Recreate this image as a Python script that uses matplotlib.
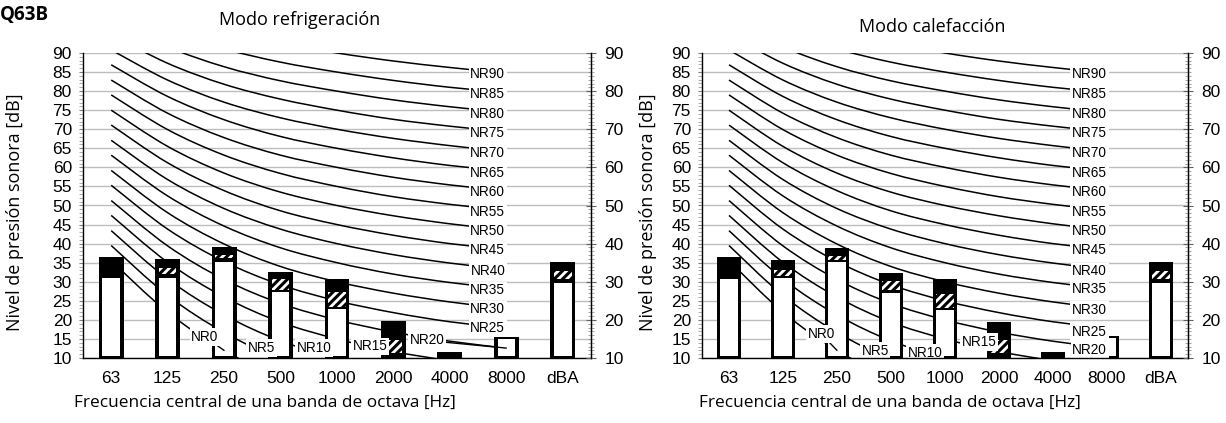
import matplotlib
matplotlib.use("Agg")
import matplotlib.pyplot as plt
from matplotlib.path import Path
from matplotlib.patches import PathPatch
from matplotlib.ticker import MultipleLocator

# ---------------- data ----------------
bands = ["63", "125", "250", "500", "1000", "2000", "4000", "8000", "dBA"]
curve_bands = ["63", "125", "250", "500", "1000", "2000", "4000", "8000"]

nr_levels = [0, 5, 10, 15, 20, 25, 30, 35, 40, 45, 50, 55, 60, 65, 70, 75, 80, 85, 90]
# NR curve levels [dB] per octave band (63 ... 8000 Hz)
nr_curves = [
    [35.5, 22.0, 12.0, 4.8, 0.0, -3.5, -6.1, -8.0],
    [39.5, 26.4, 16.7, 9.7, 5.0, 1.6, -1.0, -2.9],
    [43.4, 30.7, 21.3, 14.5, 10.0, 6.7, 4.2, 2.3],
    [47.4, 35.1, 26.0, 19.4, 15.0, 11.7, 9.3, 7.5],
    [51.3, 39.4, 30.6, 24.3, 20.0, 16.8, 14.4, 12.6],
    [55.3, 43.8, 35.3, 29.2, 25.0, 21.9, 19.5, 17.8],
    [59.2, 48.1, 39.9, 34.0, 30.0, 27.0, 24.7, 22.9],
    [63.2, 52.5, 44.6, 38.9, 35.0, 32.0, 29.8, 28.1],
    [67.1, 56.8, 49.2, 43.8, 40.0, 37.1, 34.9, 33.2],
    [71.1, 61.2, 53.9, 48.6, 45.0, 42.2, 40.0, 38.4],
    [75.0, 65.5, 58.5, 53.5, 50.0, 47.3, 45.2, 43.5],
    [79.0, 69.9, 63.2, 58.4, 55.0, 52.3, 50.3, 48.7],
    [82.9, 74.2, 67.8, 63.2, 60.0, 57.4, 55.4, 53.8],
    [86.9, 78.6, 72.5, 68.1, 65.0, 62.5, 60.5, 59.0],
    [90.8, 82.9, 77.1, 73.0, 70.0, 67.6, 65.7, 64.1],
    [94.8, 87.3, 81.8, 77.9, 75.0, 72.6, 70.8, 69.3],
    [98.7, 91.6, 86.4, 82.7, 80.0, 77.7, 75.9, 74.4],
    [102.7, 96.0, 91.1, 87.6, 85.0, 82.8, 81.0, 79.6],
    [106.6, 100.3, 95.7, 92.5, 90.0, 87.9, 86.2, 84.7],
]

# Cooling mode (Modo refrigeración)
cool_total = [36.6, 36.0, 39.2, 32.5, 30.8, 19.8, 11.6, 15.5, 35.2]
cool_white = [30.9, 31.1, 35.3, 27.2, 22.8, 10.0, 10.0, 15.0, 29.8]
cool_hatch_lo = [None, 32.0, 36.1, 27.9, 23.3, 11.3, None, None, 30.6]
cool_hatch_hi = [None, 33.6, 37.1, 30.6, 27.2, 14.7, None, None, 32.8]

# Heating mode (Modo calefacción)
heat_total = [36.5, 35.7, 38.9, 32.4, 30.6, 19.5, 11.5, 15.7, 35.2]
heat_white = [30.6, 31.0, 35.1, 27.0, 22.5, 10.0, 10.0, 15.2, 29.8]
heat_hatch_lo = [None, 31.6, 35.7, 27.9, 23.2, 11.3, None, None, 30.6]
heat_hatch_hi = [None, 33.0, 36.7, 30.2, 26.7, 14.7, None, None, 32.8]

# NR label anchor (band index of labelled point) and label height
cool_label_idx = [2, 3, 4, 5, 6] + [7] * 14
cool_label_y = [15.5, 12.6, 12.6, 13.1, 14.6] + [17.9, 22.8, 27.8, 32.9, 38.2, 43.3,
                                                48.4, 53.5, 58.6, 63.8, 68.9, 74.0, 79.3, 84.4]
heat_label_idx = [2, 3, 4, 5, 7] + [7] * 14
heat_label_y = [16.3, 11.9, 11.4, 14.2, 12.2] + [16.8, 22.6, 28.0, 32.7, 38.2, 43.3,
                                                48.4, 53.5, 58.6, 63.8, 68.9, 74.0, 79.3, 84.4]
# labels whose leader line runs back to a curve point: nr level -> band index
cool_leaders = {0: 2, 20: 7}
heat_leaders = {0: 2}

# ---------------- style ----------------
W, H = 1226, 423
fig = plt.figure(figsize=(W / 100, H / 100), dpi=100)
TICKFONT = "Liberation Sans"
TEXTFONT = "Open Sans"
plt.rcParams["hatch.linewidth"] = 2.2


def fx(px):
    return px / W


def fy(py):
    return 1 - py / H


def smooth_path(xs, ys):
    n = len(xs)
    verts = [(xs[0], ys[0])]
    codes = [Path.MOVETO]
    for i in range(n - 1):
        i0, i3 = max(i - 1, 0), min(i + 2, n - 1)
        c1 = (xs[i] + (xs[i + 1] - xs[i0]) / 6, ys[i] + (ys[i + 1] - ys[i0]) / 6)
        c2 = (xs[i + 1] - (xs[i3] - xs[i]) / 6, ys[i + 1] - (ys[i3] - ys[i]) / 6)
        verts += [c1, c2, (xs[i + 1], ys[i + 1])]
        codes += [Path.CURVE4] * 3
    return Path(verts, codes)


def draw_panel(rect, total, white, hlo, hhi, lab_idx, lab_y, leaders,
               w_out, w_in, dx_low, dx_end):
    ax = fig.add_axes(rect)
    ax.set_xlim(-0.5, len(bands) - 0.5)
    ax.set_ylim(10, 90)
    ax.set_axisbelow(True)
    ax.yaxis.set_major_locator(MultipleLocator(5))
    ax.yaxis.set_minor_locator(MultipleLocator(1))
    ax.grid(axis="y", which="major", color="#bdbdbd", lw=1.0)
    ax.set_xticks(range(len(bands)))
    ax.set_xticklabels(bands, fontfamily=TICKFONT, fontsize=12.5)
    ax.tick_params(axis="x", length=0, pad=9)
    ax.tick_params(axis="y", which="major", length=3, color="#808080",
                   labelsize=12.5, pad=5)
    ax.tick_params(axis="y", which="minor", length=3, color="#a0a0a0")
    for lab in ax.get_yticklabels():
        lab.set_fontfamily(TICKFONT)
    ax.spines["top"].set_visible(False)
    for s in ("left", "bottom", "right"):
        ax.spines[s].set_color("black")
        ax.spines[s].set_linewidth(1.0)
        ax.spines[s].set_zorder(6)

    # NR curves
    cx = list(range(len(curve_bands)))
    for vals in nr_curves:
        ax.add_patch(PathPatch(smooth_path(cx, vals), fill=False,
                               edgecolor="black", lw=1.1, zorder=1))

    # bars
    x = list(range(len(bands)))
    ax.bar(x, [t - 10 for t in total], bottom=10, width=w_out,
           color="black", zorder=2)
    ax.bar(x, [max(wv - 10.6, 0) for wv in white], bottom=10.6, width=w_in,
           color="white", zorder=2.1)
    for i in x:
        if hlo[i] is not None:
            ax.bar(i, hhi[i] - hlo[i], bottom=hlo[i], width=w_in,
                   color="white", edgecolor="black", hatch="////", lw=0,
                   zorder=2.2)

    # NR labels
    for k, nr in enumerate(nr_levels):
        idx = lab_idx[k]
        y = lab_y[k]
        dx = dx_end if idx == 7 else dx_low
        bbox = dict(boxstyle="square,pad=0.12", fc="white", ec="none")
        if nr in leaders:
            j = leaders[nr]
            ax.annotate(f"NR{nr}", xy=(j, nr_curves[k][j]),
                        xytext=(idx + dx, y), textcoords="data",
                        ha="right", va="center", fontfamily=TICKFONT,
                        fontsize=9.8, zorder=5, bbox=bbox,
                        arrowprops=dict(arrowstyle="-", color="black", lw=1.0,
                                        shrinkA=0, shrinkB=0))
        else:
            ax.text(idx + dx, y, f"NR{nr}", ha="right", va="center",
                    fontfamily=TICKFONT, fontsize=9.8, zorder=5, bbox=bbox)

    # right axis
    ax2 = ax.twinx()
    ax2.set_ylim(10, 90)
    ax2.yaxis.set_major_locator(MultipleLocator(10))
    ax2.yaxis.set_minor_locator(MultipleLocator(1))
    ax2.tick_params(axis="y", which="major", direction="inout", length=7,
                    color="#606060", labelsize=12.5, pad=6)
    ax2.tick_params(axis="y", which="minor", direction="inout", length=5,
                    color="#909090")
    for lab in ax2.get_yticklabels():
        lab.set_fontfamily(TICKFONT)
    for s in ("top", "left", "bottom"):
        ax2.spines[s].set_visible(False)
    ax2.spines["right"].set_color("black")
    return ax


# left panel: x 83..591, y 53..358 px
draw_panel([fx(83), fy(358), (591 - 83) / W, (358 - 53) / H],
           cool_total, cool_white, cool_hatch_lo, cool_hatch_hi,
           cool_label_idx, cool_label_y, cool_leaders, 0.44, 0.31, -0.1, -0.02)
# right panel: x 702..1188
draw_panel([fx(702), fy(358), (1188 - 702) / W, (358 - 53) / H],
           heat_total, heat_white, heat_hatch_lo, heat_hatch_hi,
           heat_label_idx, heat_label_y, heat_leaders, 0.46, 0.33, -0.04, 0.0)

# texts
fig.text(fx(0), fy(15), "Q63B", fontfamily=TEXTFONT, fontweight="bold",
         fontsize=13.5, ha="left", va="center")
fig.text(fx(300), fy(20), "Modo refrigeración", fontfamily=TEXTFONT,
         fontsize=13, ha="center", va="center")
fig.text(fx(932), fy(27), "Modo calefacción", fontfamily=TEXTFONT,
         fontsize=13, ha="center", va="center")
for cx_, cy_ in ((265, 403), (890, 403)):
    fig.text(fx(cx_), fy(cy_), "Frecuencia central de una banda de octava [Hz]",
             fontfamily=TEXTFONT, fontsize=12.4, ha="center", va="center")
for cx_ in (15, 648):
    fig.text(fx(cx_), fy(212), "Nivel de presión sonora [dB]",
             fontfamily=TEXTFONT, fontsize=13, rotation=90,
             ha="center", va="center")

fig.savefig("out.png", dpi=100, facecolor="white")
